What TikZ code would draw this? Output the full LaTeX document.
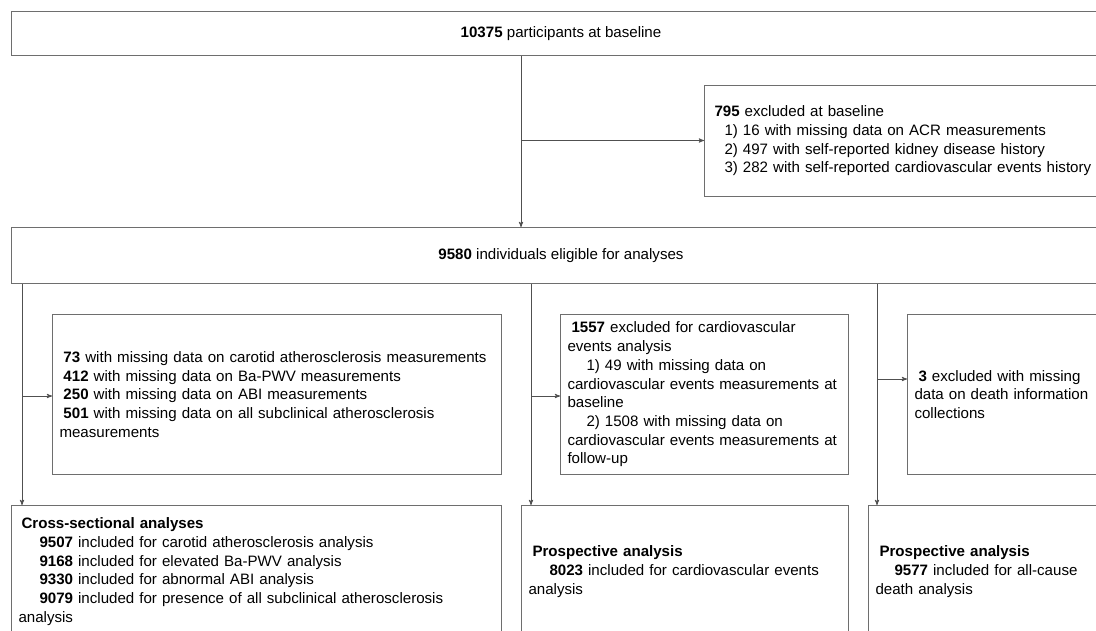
\documentclass[tikz,border=0pt]{standalone}
\usepackage{fontspec}
\setmainfont{Liberation Sans}
\usetikzlibrary{arrows,positioning}
\definecolor{boxgray}{RGB}{110,110,110}
\definecolor{linegray}{RGB}{80,80,80}
\tikzset
{
    flowbox/.style = {draw=boxgray, line width=1pt, rectangle, anchor=north west, inner xsep=7pt, inner ysep=0pt, font=\fontsize{15.1}{18.7}\selectfont},
    widebox/.style = {flowbox, align=center, minimum width=1099pt},
    exclbox/.style = {flowbox, align=left, minimum height=160pt},
    studybox/.style = {flowbox, align=left, minimum height=132pt},
    flowline/.style = {draw=linegray, line width=0.85pt}
}

\begin{document}
\begin{tikzpicture}[x=1pt, y=-1pt, >=stealth']
    \fill [white] (0,0) rectangle (1096,630);
    \useasboundingbox (0,0) rectangle (1096,630);
    \clip (0,0) rectangle (1096,630);

    % ------------------------------------------------ baseline
    \node [widebox, minimum height=44pt] (base) at (11,11) {\textbf{10375} participants at baseline};
    \node [flowbox, align=left, text width=386pt, inner xsep=10pt, minimum height=111pt] (exbase) at (704,85)
    {
        \textbf{795} excluded at baseline\\
        \hspace*{10pt}1) 16 with missing data on ACR measurements\\
        \hspace*{10pt}2) 497 with self-reported kidney disease history\\
        \hspace*{10pt}3) 282 with self-reported cardiovascular events history
    };
    \node [widebox, minimum height=56pt] (elig) at (11,227) {\textbf{9580} individuals eligible for analyses};

    % ------------------------------------------------ exclusions per analysis
    \node [exclbox, text width=435pt] (exclsub) at (52,314)
    {
        \hspace*{4pt}\textbf{73} with missing data on carotid atherosclerosis measurements\\
        \hspace*{4pt}\textbf{412} with missing data on Ba-PWV measurements\\
        \hspace*{4pt}\textbf{250} with missing data on ABI measurements\\
        \hspace*{4pt}\textbf{501} with missing data on all subclinical atherosclerosis\\
        measurements
    };
    \node [exclbox, text width=274pt] (exclcvd) at (560,314)
    {
        \hspace*{4pt}\textbf{1557} excluded for cardiovascular\\
        events analysis\\
        \hspace*{19pt}1) 49 with missing data on\\
        cardiovascular events measurements at\\
        baseline\\
        \hspace*{19pt}2) 1508 with missing data on\\
        cardiovascular events measurements at\\
        follow-up
    };
    \node [exclbox, text width=189pt] (excldeath) at (907,314)
    {
        \hspace*{4pt}\textbf{3} excluded with missing\\
        data on death information\\
        collections
    };

    % ------------------------------------------------ analyses
    \node [studybox, text width=476pt] (cross) at (11,505)
    {
        \hspace*{3pt}\textbf{Cross-sectional analyses}\\
        \hspace*{21pt}\textbf{9507} included for carotid atherosclerosis analysis\\
        \hspace*{21pt}\textbf{9168} included for elevated Ba-PWV analysis\\
        \hspace*{21pt}\textbf{9330} included for abnormal ABI analysis\\
        \hspace*{21pt}\textbf{9079} included for presence of all subclinical atherosclerosis\\
        analysis
    };
    \node [studybox, text width=313pt] (procvd) at (521,505)
    {
        \hspace*{4pt}\textbf{Prospective analysis}\\
        \hspace*{21pt}\textbf{8023} included for cardiovascular events\\
        analysis
    };
    \node [studybox, text width=228pt] (prodeath) at (868,505)
    {
        \hspace*{4pt}\textbf{Prospective analysis}\\
        \hspace*{19pt}\textbf{9577} included for all-cause\\
        death analysis
    };

    % ------------------------------------------------ connectors
    \coordinate (split) at (521,140.5);
    \draw [flowline] (base.south -| split) -- (split);
    \draw [flowline,->] (split) -- (elig.north -| split);
    \draw [flowline,->] (split) -- (exbase.west |- split);

    \coordinate (tapsub) at (22,396);
    \coordinate (tapcvd) at (531,396);
    \coordinate (tapdeath) at (877,379);
    \draw [flowline,->] (elig.south -| tapsub) -- (cross.north -| tapsub);
    \draw [flowline,->] (tapsub) -- (exclsub.west |- tapsub);
    \draw [flowline,->] (elig.south -| tapcvd) -- (procvd.north -| tapcvd);
    \draw [flowline,->] (tapcvd) -- (exclcvd.west |- tapcvd);
    \draw [flowline,->] (elig.south -| tapdeath) -- (prodeath.north -| tapdeath);
    \draw [flowline,->] (tapdeath) -- (excldeath.west |- tapdeath);
\end{tikzpicture}
\end{document}
